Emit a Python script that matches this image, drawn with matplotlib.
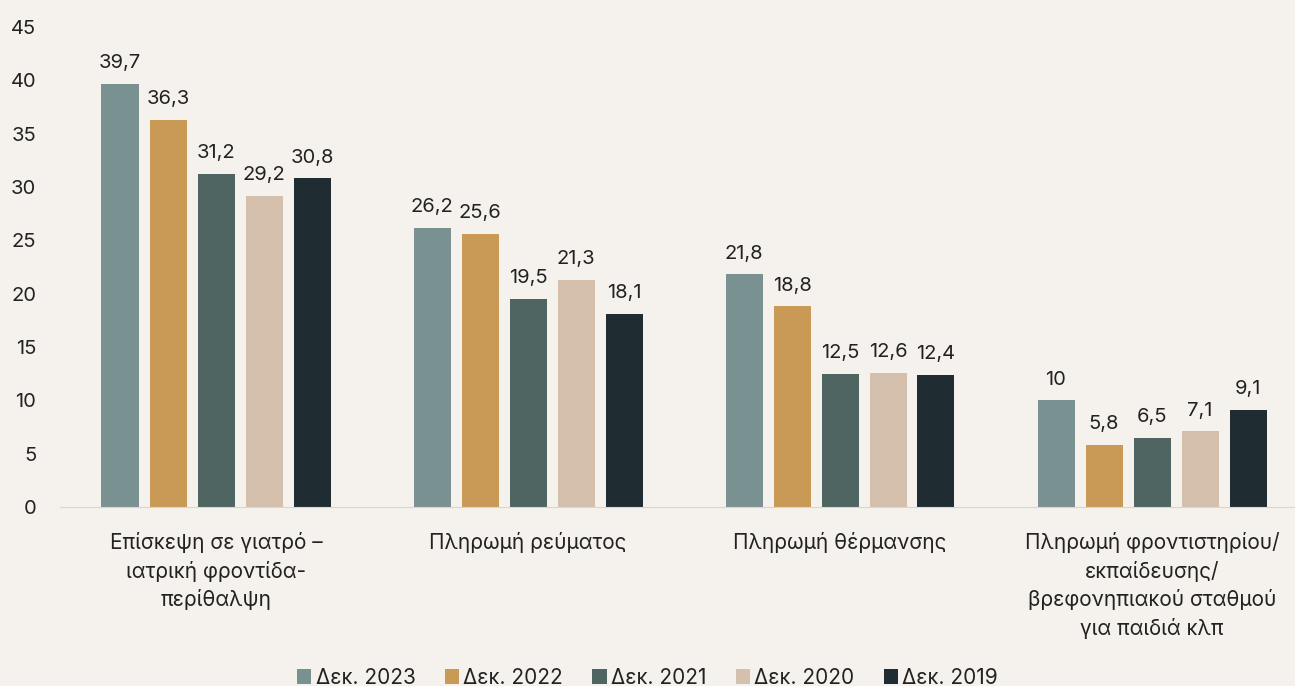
import numpy as np
import matplotlib.pyplot as plt

plt.rcParams['font.family'] = ['Inter', 'DejaVu Sans']

categories = ['Επίσκεψη σε γιατρό –\nιατρική φροντίδα-\nπερίθαλψη',
              'Πληρωμή ρεύματος',
              'Πληρωμή θέρμανσης',
              'Πληρωμή φροντιστηρίου/\nεκπαίδευσης/\nβρεφονηπιακού σταθμού\nγια παιδιά κλπ']
series = ['Δεκ. 2023', 'Δεκ. 2022', 'Δεκ. 2021', 'Δεκ. 2020', 'Δεκ. 2019']
v2023 = [39.7, 26.2, 21.8, 10]
v2022 = [36.3, 25.6, 18.8, 5.8]
v2021 = [31.2, 19.5, 12.5, 6.5]
v2020 = [29.2, 21.3, 12.6, 7.1]
v2019 = [30.8, 18.1, 12.4, 9.1]
colors = ['#7a9192', '#c99a55', '#4f6562', '#d5c0ae', '#1f2d32']

bg = '#f5f2ee'
fig = plt.figure(figsize=(12.95, 6.86), dpi=100, facecolor=bg)
ax = fig.add_axes([60/1295, 1-507/686, 1235/1295, 480/686], facecolor=bg)

x = np.arange(len(categories))
w = 37/312
step = 48/312
for i, (name, vals) in enumerate(zip(series, [v2023, v2022, v2021, v2020, v2019])):
    pos = x + (i - 2) * step
    bars = ax.bar(pos, vals, w, color=colors[i], label=name)
    for b, v in zip(bars, vals):
        lab = ('%g' % v).replace('.', ',')
        ax.text(b.get_x() + b.get_width()/2, v + 1.1, lab, ha='center', va='bottom',
                fontsize=14.5, color='#222222')

ax.set_xlim(-0.5, -0.5 + 1235/312)
ax.set_ylim(0, 45)
ax.set_yticks(range(0, 50, 5))
ax.set_xticks(x)
ax.set_xticklabels(categories, fontsize=15, color='#222222', linespacing=1.45)
ax.tick_params(axis='y', length=0, labelsize=14.5, labelcolor='#222222', pad=17)
ax.tick_params(axis='x', length=0, pad=18)
for s in ['top', 'right', 'left']:
    ax.spines[s].set_visible(False)
ax.spines['bottom'].set_color('#d9d6d2')

fig.legend(loc='lower center', bbox_to_anchor=(0.5, -0.03), ncol=5, frameon=False,
           fontsize=15, handlelength=0.7, handleheight=0.7, handletextpad=0.2,
           columnspacing=1.4, labelcolor='#222222')

fig.savefig('out.png', dpi=100, facecolor=bg)
